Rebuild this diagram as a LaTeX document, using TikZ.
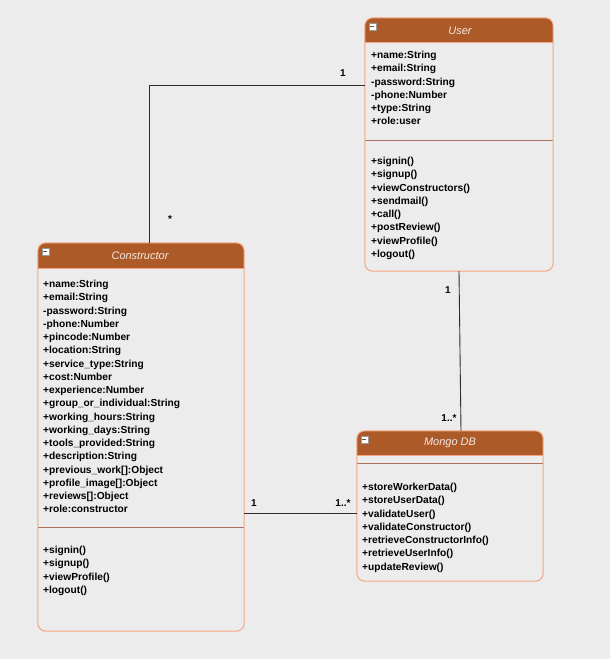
\documentclass[tikz,border=0pt]{standalone}
\usepackage{fontspec}
\setmainfont{Liberation Sans}
\definecolor{bgc}{HTML}{ECECEC}
\definecolor{hdr}{HTML}{AD5A29}
\definecolor{bord}{HTML}{F4A683}
\definecolor{sepc}{HTML}{A8705A}
\definecolor{ttl}{HTML}{F3E9E4}
\definecolor{linec}{HTML}{2E2E2E}
\newcommand{\umlicon}[1]{%
  \draw[draw=gray!80, fill=white, line width=0.5pt] ([shift={(4,5)}]#1.north west) rectangle ([shift={(11,12)}]#1.north west);
  \draw[draw=gray!70!black, line width=1pt] ([shift={(5.5,8.5)}]#1.north west) -- ([shift={(9.5,8.5)}]#1.north west);}
\tikzset{
  umlbox/.style={draw=none, fill=bgc, rounded corners=8pt, inner sep=0pt},
  txt/.style={anchor=north west, align=left, inner sep=0pt, font=\fontsize{10.2}{13.25}\selectfont\bfseries, text=black},
  title/.style={inner sep=0pt, font=\fontsize{11}{13}\selectfont\itshape, text=ttl},
  mult/.style={inner sep=0pt, font=\fontsize{10}{12}\selectfont\bfseries},
  conn/.style={draw=linec, line width=0.9pt}
}
\begin{document}
\begin{tikzpicture}[x=1pt,y=-1pt]
\fill[bgc] (0,0) rectangle (610,659);
\useasboundingbox (0,0) rectangle (610,659);

% boxes
\node[umlbox, minimum width=188pt, minimum height=253pt] (user) at (459,144.5) {};
\node[umlbox, minimum width=206pt, minimum height=388pt] (cons) at (141,437) {};
\node[umlbox, minimum width=186pt, minimum height=150pt] (mongo) at (450,506) {};

% headers
\begin{scope}
\clip[rounded corners=8pt] (user.north west) rectangle (user.south east);
\fill[hdr] (user.north west) rectangle ([yshift=-25pt]user.north east);
\end{scope}
\begin{scope}
\clip[rounded corners=8pt] (cons.north west) rectangle (cons.south east);
\fill[hdr] (cons.north west) rectangle ([yshift=-26pt]cons.north east);
\end{scope}
\begin{scope}
\clip[rounded corners=8pt] (mongo.north west) rectangle (mongo.south east);
\fill[hdr] (mongo.north west) rectangle ([yshift=-25pt]mongo.north east);
\end{scope}

% header bottom lines and separators
\draw[bord, line width=0.8pt] ([yshift=-25pt]user.north west) -- ([yshift=-25pt]user.north east);
\draw[sepc, line width=0.8pt] ([yshift=-123pt]user.north west) -- ([yshift=-123pt]user.north east);
\draw[bord, line width=0.8pt] ([yshift=-26pt]cons.north west) -- ([yshift=-26pt]cons.north east);
\draw[sepc, line width=0.8pt] ([yshift=-285pt]cons.north west) -- ([yshift=-285pt]cons.north east);
\draw[bord, line width=0.8pt] ([yshift=-25pt]mongo.north west) -- ([yshift=-25pt]mongo.north east);
\draw[sepc, line width=0.8pt] ([yshift=-33pt]mongo.north west) -- ([yshift=-33pt]mongo.north east);

% borders
\draw[bord, line width=1pt, rounded corners=8pt] (user.north west) rectangle (user.south east);
\draw[bord, line width=1pt, rounded corners=8pt] (cons.north west) rectangle (cons.south east);
\draw[bord, line width=1pt, rounded corners=8pt] (mongo.north west) rectangle (mongo.south east);

\umlicon{user}
\umlicon{cons}
\umlicon{mongo}

% titles
\node[title] (usertitle) at (460,31) {User};
\node[title] (constitle) at (140,256) {Constructor};
\node[title] (mongotitle) at (450,443) {Mongo DB};

% texts
\node[txt] (userattr) at (371,51) {+name:String\\+email:String\\-password:String\\-phone:Number\\+type:String\\+role:user};
\node[txt] (usermeth) at (371,157) {+signin()\\+signup()\\+viewConstructors()\\+sendmail()\\+call()\\+postReview()\\+viewProfile()\\+logout()};
\node[txt] (consattr) at (43,280) {+name:String\\+email:String\\-password:String\\-phone:Number\\+pincode:Number\\+location:String\\+service\_type:String\\+cost:Number\\+experience:Number\\+group\_or\_individual:String\\+working\_hours:String\\+working\_days:String\\+tools\_provided:String\\+description:String\\+previous\_work[]:Object\\+profile\_image[]:Object\\+reviews[]:Object\\+role:constructor};
\node[txt] (consmeth) at (43,546) {+signin()\\+signup()\\+viewProfile()\\+logout()};
\node[txt] (mongometh) at (362,483) {+storeWorkerData()\\+storeUserData()\\+validateUser()\\+validateConstructor()\\+retrieveConstructorInfo()\\+retrieveUserInfo()\\+updateReview()};

% connectors
\coordinate (bend) at (149,85);
\coordinate (cm) at (300,513);
\draw[conn] (user.west |- bend) -- (bend) -- (cons.north -| bend);
\draw[conn] (user.south) -- ([xshift=11pt]mongo.north);
\draw[conn] (cons.east |- cm) -- (mongo.west |- cm);

% multiplicities
\node[mult] (m1) at (343,73) {1};
\node[mult] (m2) at (170,219) {*};
\node[mult] (m3) at (448,290) {1};
\node[mult] (m4) at (449,418) {1..*};
\node[mult] (m5) at (254,503) {1};
\node[mult] (m6) at (343,503) {1..*};
\end{tikzpicture}
\end{document}
